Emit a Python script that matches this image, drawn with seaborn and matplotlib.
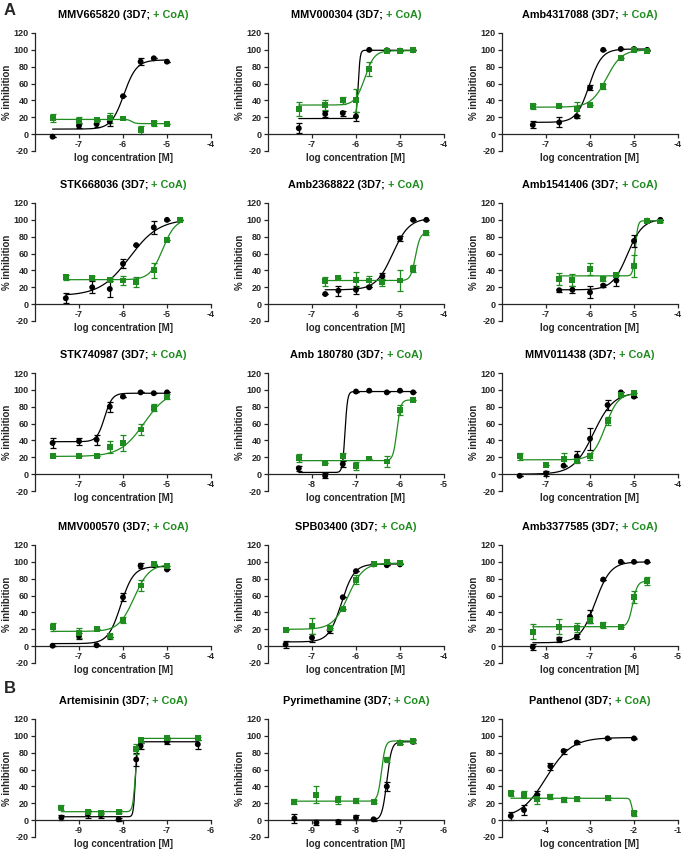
import numpy as np
import pandas as pd
import matplotlib
matplotlib.use("Agg")
import matplotlib.pyplot as plt
import seaborn as sns

sns.set_theme(style="ticks")
plt.rcParams["font.family"] = ["Liberation Sans", "DejaVu Sans"]
plt.rcParams["font.weight"] = "bold"
plt.rcParams["axes.unicode_minus"] = False

GREEN = "#1f8c1f"

# panel names, A = first 12, B = last 3
titles = ["MMV665820", "MMV000304", "Amb4317088",
          "STK668036", "Amb2368822", "Amb1541406",
          "STK740987", "Amb 180780", "MMV011438",
          "MMV000570", "SPB03400", "Amb3377585",
          "Artemisinin", "Pyrimethamine", "Panthenol"]

# left end of each x axis (log M), axes span 4 decades
x_start = [-8, -8, -8, -8, -8, -8, -8, -9, -8, -8, -8, -9, -10, -10, -5]

doses = [
    [-7.6, -7.0, -6.6, -6.3, -6.0, -5.6, -5.3, -5.0],
    [-7.3, -6.7, -6.3, -6.0, -5.7, -5.3, -5.0, -4.7],
    [-7.3, -6.7, -6.3, -6.0, -5.7, -5.3, -5.0, -4.7],
    [-7.3, -6.7, -6.3, -6.0, -5.7, -5.3, -5.0, -4.7],
    [-6.7, -6.4, -6.0, -5.7, -5.4, -5.0, -4.7, -4.4],
    [-6.7, -6.4, -6.0, -5.7, -5.4, -5.0, -4.7, -4.4],
    [-7.6, -7.0, -6.6, -6.3, -6.0, -5.6, -5.3, -5.0],
    [-8.3, -7.7, -7.3, -7.0, -6.7, -6.3, -6.0, -5.7],
    [-7.6, -7.0, -6.6, -6.3, -6.0, -5.6, -5.3, -5.0],
    [-7.6, -7.0, -6.6, -6.3, -6.0, -5.6, -5.3, -5.0],
    [-7.6, -7.0, -6.6, -6.3, -6.0, -5.6, -5.3, -5.0],
    [-8.3, -7.7, -7.3, -7.0, -6.7, -6.3, -6.0, -5.7],
    [-9.4, -8.8, -8.5, -8.1, -7.7, -7.6, -7.0, -6.3],
    [-9.4, -8.9, -8.4, -8.0, -7.6, -7.3, -7.0, -6.7],
    [-4.8, -4.5, -4.2, -3.9, -3.6, -3.3, -2.6, -2.0],
]

# 3D7 (black)
ctrl_mean = [
    [-3, 10, 12, 15, 45, 86, 90, 86],
    [7, 24, 25, 21, 100, 99.5, 99, 99.5],
    [11, 14, 21, 55, 100, 101, 101, 100],
    [7, 20, 18, 48, 70, 91, 100, 100],
    [12, 16, 17, 20, 33, 78, 100, 100],
    [16.5, 17, 14, 22, 28, 75, 99, 100],
    [37, 39, 41, 80, 92, 97, 96, 97],
    [7, -2, 12, 98, 99, 97, 99, 97],
    [-2, 1, 10, 21, 42, 82, 97, 92],
    [0.5, 12, 1, 11, 58, 95.5, 96, 91],
    [2, 10, 19, 58, 89, 97, 96, 97],
    [-1, 8, 11, 35, 79, 100, 100, 100],
    [3, 7, 6, 1, 72, 88, 93, 90],
    [2, -3, -2, 3, 1, 40, 92, 93],
    [5, 12, 30, 64, 82, 92, 97, 97],
]
ctrl_err = [
    [0, 3, 3, 5, 0, 4, 0, 0],
    [6, 4, 3, 5, 0, 0, 0, 0],
    [4, 6, 2, 3, 0, 0, 0, 0],
    [6, 7, 9, 5, 0, 8, 0, 0],
    [0, 6, 5, 0, 4, 3, 0, 0],
    [2, 4, 7, 2, 7, 7, 0, 0],
    [6, 4, 6, 6, 0, 0, 0, 0],
    [3, 3, 4, 0, 0, 0, 0, 0],
    [0, 3, 0, 7, 13, 6, 0, 0],
    [0, 4, 0, 0, 5, 3, 0, 0],
    [4, 5, 3, 0, 0, 0, 0, 0],
    [3, 3, 3, 8, 0, 0, 0, 0],
    [3, 4, 3, 2, 8, 4, 3, 5],
    [5, 3, 2, 3, 2, 5, 2, 2],
    [5, 6, 4, 4, 3, 2, 1, 1],
]

# + CoA (green)
coa_mean = [
    [19, 16, 17, 19, 18.5, 5, 13, 12.5],
    [30, 35, 40, 40, 77, 99, 99, 99.5],
    [33, 33, 30, 35, 57, 90, 100, 99],
    [32, 31, 29, 28, 26, 40, 76, 100],
    [27, 31, 29, 28, 26, 28, 42, 84],
    [30, 29, 42, 30, 35, 45, 99, 98],
    [21, 21, 22, 32, 37, 53, 79, 92],
    [19, 13, 21, 10, 18.5, 15, 76, 88],
    [21, 11, 18, 16, 21, 63, 94, 96],
    [23, 16, 20, 12, 31, 72, 97, 95],
    [19, 24, 22, 44, 79, 97, 100, 99],
    [17, 23, 22, 31, 25, 22.5, 58, 77],
    [15, 10, 9, 10, 84, 95, 97, 97],
    [22, 30, 24, 23, 22, 72, 92, 94],
    [32, 30, 25, 28, 24, 25, 26, 8],
]
coa_err = [
    [5, 4, 0, 6, 0, 5, 3, 0],
    [8, 6, 4, 14, 8, 0, 0, 0],
    [3, 0, 8, 0, 3, 0, 0, 0],
    [3, 2, 2, 5, 6, 9, 0, 0],
    [5, 0, 9, 5, 4, 12, 4, 2],
    [7, 7, 7, 2, 2, 13, 0, 0],
    [0, 0, 0, 7, 9, 6, 4, 3],
    [5, 0, 4, 5, 0, 6, 6, 0],
    [4, 0, 7, 3, 4, 5, 0, 0],
    [5, 6, 0, 3, 4, 7, 0, 0],
    [0, 9, 3, 0, 5, 0, 0, 0],
    [9, 9, 5, 4, 4, 0, 7, 5],
    [3, 2, 2, 2, 6, 3, 2, 2],
    [3, 10, 5, 3, 2, 3, 2, 2],
    [3, 4, 6, 3, 3, 2, 2, 3],
]

# fitted curves: bottom, top, logIC50, hill slope
ctrl_fit = [
    (6, 88, -5.98, 3.0), (18.5, 99.5, -5.95, 20), (14, 101, -6.02, 3.0),
    (10, 101, -5.85, 1.3), (17, 102, -5.17, 2.3), (17, 101, -5.15, 2.5),
    (38.5, 96, -6.42, 5.0), (2, 98, -7.25, 15), (0, 97, -5.92, 1.9),
    (3, 94.5, -6.05, 3.0), (5, 97.5, -6.33, 3.0), (4, 100, -6.88, 2.5),
    (4, 93, -7.72, 20), (0, 93, -7.3, 8), (2, 98, -4.0, 1.5),
]
coa_fit = [
    (12.5, 17.5, -5.8, -10), (34.5, 99, -5.8, 4.0), (32, 100, -5.63, 2.5),
    (29, 101, -5.1, 3.0), (28, 85, -4.65, 8), (33.5, 99, -4.97, 15),
    (21, 100, -5.52, 1.6), (16, 88, -6.07, 10), (17, 96, -5.65, 3.0),
    (17.5, 97, -5.75, 2.5), (20, 98.5, -6.18, 2.5), (23, 77, -6.03, 8),
    (10, 97, -7.72, 15), (22.5, 94, -7.42, 10), (5, 26, -2.05, -20),
]


def logistic(x, bottom, top, logic50, slope):
    return bottom + (top - bottom) / (1 + 10 ** ((logic50 - x) * slope))


pal = {"3D7": "black", "+ CoA": GREEN}
W, H = 685, 860
col_x = [35, 268, 502]
row_top = [33, 203, 373, 545, 719]
ax_w, ax_h = 176, 118

fig = plt.figure(figsize=(W / 100, H / 100), dpi=100)
title_parts = []

for i, name in enumerate(titles):
    r, c = divmod(i, 3)
    ax = fig.add_axes([col_x[c] / W, 1 - (row_top[r] + ax_h) / H, ax_w / W, ax_h / H])
    n = len(doses[i])
    df = pd.DataFrame({
        "dose": doses[i] * 2,
        "inhibition": ctrl_mean[i] + coa_mean[i],
        "err": ctrl_err[i] + coa_err[i],
        "group": ["3D7"] * n + ["+ CoA"] * n,
    })
    xs = np.linspace(min(doses[i]), max(doses[i]), 300)
    curves = pd.DataFrame({
        "dose": np.concatenate([xs, xs]),
        "inhibition": np.concatenate([logistic(xs, *ctrl_fit[i]), logistic(xs, *coa_fit[i])]),
        "group": ["3D7"] * len(xs) + ["+ CoA"] * len(xs),
    })
    sns.lineplot(data=curves, x="dose", y="inhibition", hue="group", palette=pal,
                 legend=False, linewidth=0.9, ax=ax)
    for g in ["3D7", "+ CoA"]:
        sub = df[df["group"] == g]
        ax.errorbar(sub["dose"], sub["inhibition"], yerr=sub["err"], fmt="none",
                    ecolor=pal[g], elinewidth=0.9, capsize=2.2, capthick=0.9)
    sns.scatterplot(data=df, x="dose", y="inhibition", hue="group", style="group",
                    markers={"3D7": "o", "+ CoA": "s"}, palette=pal, s=18,
                    linewidth=0, legend=False, ax=ax, zorder=3)

    x0 = x_start[i]
    ax.set_xlim(x0, x0 + 4)
    ax.set_ylim(-20, 120)
    ax.set_xticks(range(x0 + 1, x0 + 5))
    ax.set_yticks(range(-20, 121, 20))
    ax.spines["top"].set_visible(False)
    ax.spines["right"].set_visible(False)
    ax.spines["bottom"].set_position(("data", 0))
    for s in ["left", "bottom"]:
        ax.spines[s].set_linewidth(0.9)
    ax.tick_params(labelsize=6.5, length=3, width=0.9, pad=1.5)
    for lab in ax.get_xticklabels() + ax.get_yticklabels():
        lab.set_fontweight("bold")
    ax.set_xlabel("log concentration [M]", fontsize=7, fontweight="bold")
    ax.set_ylabel("% inhibition", fontsize=7, fontweight="bold")
    ax.xaxis.set_label_coords(0.5, -0.02)
    ax.yaxis.set_label_coords(-0.13, 0.5)

    t1 = ax.text(0.5, 1.15, name + " (3D7; ", transform=ax.transAxes, ha="left",
                 va="center", fontsize=7.8, fontweight="bold", color="black")
    t2 = ax.annotate("+ CoA)", xy=(1, 0), xycoords=t1, ha="left", va="bottom",
                     fontsize=7.8, fontweight="bold", color=GREEN)
    title_parts.append((ax, t1, t2))

fig.text(4 / W, 1 - 3 / H, "A", fontsize=12, fontweight="bold", va="top", ha="left")
fig.text(4 / W, 1 - 681 / H, "B", fontsize=12, fontweight="bold", va="top", ha="left")

# center the two-colour titles over their axes
fig.canvas.draw()
rend = fig.canvas.get_renderer()
for ax, t1, t2 in title_parts:
    w = t1.get_window_extent(rend).width + t2.get_window_extent(rend).width
    axw = ax.get_window_extent(rend).width
    t1.set_x(0.5 - w / 2 / axw)

fig.savefig("out.png", dpi=100)
